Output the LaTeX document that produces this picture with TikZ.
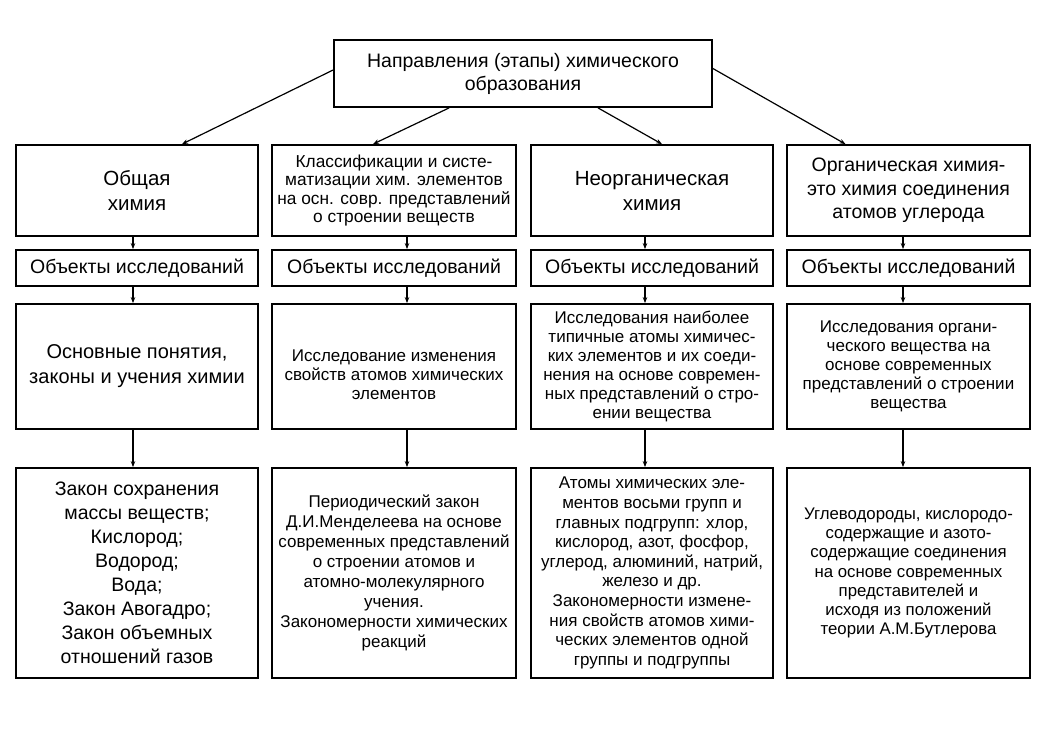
\documentclass[tikz,border=0pt]{standalone}
\usepackage{fontspec}
\setmainfont{Liberation Sans}
\usetikzlibrary{arrows.meta}
\begin{document}
\begin{tikzpicture}[x=1pt,y=-1pt]
\tikzset{
  box/.style={draw, line width=1.8pt, inner sep=2pt, align=center, anchor=center},
  conn/.style={line width=1.2pt, -{Stealth[length=6pt,width=4.5pt]}},
  fbig/.style={font=\fontsize{20.5}{25}\selectfont},
  fmid/.style={font=\fontsize{19.5}{23.5}\selectfont},
  fsmall/.style={font=\fontsize{17}{19}\selectfont},
  rowone/.style={box, minimum height=91pt},
  rowtwo/.style={box, minimum height=36pt, fmid},
  rowthree/.style={box, minimum height=125pt},
  rowfour/.style={box, minimum height=210pt},
}
\useasboundingbox[fill=white] (0,0) rectangle (1042,734);

\node[box, minimum width=378pt, minimum height=67pt, font=\fontsize{19.5}{23}\selectfont] (top) at (523,73.5)
  {Направления (этапы) химического\\образования};

\node[rowone, minimum width=242pt, fbig] (b1) at (137,190.5) {Общая\\химия};
\node[rowone, minimum width=244pt, font=\fontsize{17.3}{18.5}\selectfont] (b2) at (394,190.5)
  {Классификации и систе-\\матизации хим. элементов\\на осн. совр. представлений\\о строении веществ};
\node[rowone, minimum width=242pt, fbig] (b3) at (652,190.5) {Неорганическая\\химия};
\node[rowone, minimum width=243pt, fmid] (b4) at (908.5,190.5)
  {Органическая химия-\\это химия соединения\\атомов углерода};

\node[rowtwo, minimum width=242pt] (o1) at (137,268) {Объекты исследований};
\node[rowtwo, minimum width=244pt] (o2) at (394,268) {Объекты исследований};
\node[rowtwo, minimum width=242pt] (o3) at (652,268) {Объекты исследований};
\node[rowtwo, minimum width=243pt] (o4) at (908.5,268) {Объекты исследований};

\node[rowthree, minimum width=242pt, font=\fontsize{20}{25}\selectfont] (r1) at (137,366.5)
  {Основные понятия,\\законы и учения химии};
\node[rowthree, minimum width=244pt, fsmall] (r2) at (394,366.5)
  {\rule{0pt}{28pt}Исследование изменения\\свойств атомов химических\\элементов};
\node[rowthree, minimum width=242pt, fsmall] (r3) at (652,366.5)
  {Исследования наиболее\\типичные атомы химичес-\\ких элементов и их соеди-\\нения на основе современ-\\ных представлений о стро-\\ении вещества};
\node[rowthree, minimum width=243pt, fsmall] (r4) at (908.5,366.5)
  {Исследования органи-\\ческого вещества на\\основе современных\\представлений о строении\\вещества};

\node[rowfour, minimum width=242pt, font=\fontsize{19.5}{24}\selectfont] (l1) at (137,573)
  {Закон сохранения\\массы веществ;\\Кислород;\\Водород;\\Вода;\\Закон Авогадро;\\Закон объемных\\отношений газов};
\node[rowfour, minimum width=244pt, font=\fontsize{17}{20}\selectfont] (l2) at (394,573)
  {Периодический закон\\Д.И.Менделеева на основе\\современных представлений\\о строении атомов и\\атомно-молекулярного\\учения.\\Закономерности химических\\реакций};
\node[rowfour, minimum width=242pt, font=\fontsize{17}{19.6}\selectfont] (l3) at (652,573)
  {Атомы химических эле-\\ментов восьми групп и\\главных подгрупп: хлор,\\кислород, азот, фосфор,\\углерод, алюминий, натрий,\\железо и др.\\Закономерности измене-\\ния свойств атомов хими-\\ческих элементов одной\\группы и подгруппы};
\node[rowfour, minimum width=243pt, font=\fontsize{16.8}{19.2}\selectfont] (l4) at (908.5,573)
  {Углеводороды, кислородо-\\содержащие и азото-\\содержащие соединения\\на основе современных\\представителей и\\исходя из положений\\теории А.М.Бутлерова};

\draw[conn] ([yshift=3.5pt]top.west) -- ([xshift=45pt]b1.north);
\draw[conn] ([xshift=116pt]top.south west) -- ([xshift=-21pt]b2.north);
\draw[conn] ([xshift=75pt]top.south) -- ([xshift=10pt]b3.north);
\draw[conn] ([yshift=5pt]top.east) -- ([xshift=-63pt]b4.north);

\foreach \c/\s in {1/-4pt,2/13pt,3/-7pt,4/-5.5pt}{
  \draw[conn] ([xshift=\s]b\c.south) -- ([xshift=\s]o\c.north);
  \draw[conn] ([xshift=\s]o\c.south) -- ([xshift=\s]r\c.north);
  \draw[conn] ([xshift=\s]r\c.south) -- ([xshift=\s]l\c.north);
}
\end{tikzpicture}
\end{document}
